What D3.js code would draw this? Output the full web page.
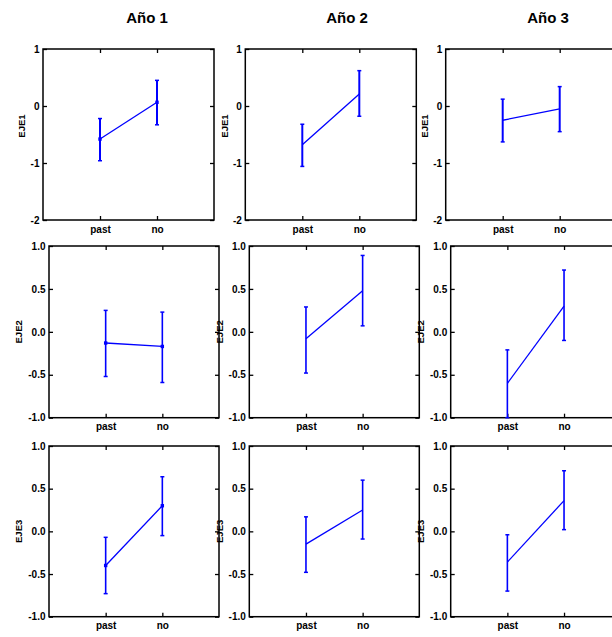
<!DOCTYPE html>
<html><head><meta charset="utf-8">
<script src="https://cdn.jsdelivr.net/npm/d3@7"></script>
<style>
html,body{margin:0;padding:0;background:#fff;}
text{font-family:"Liberation Sans",Arial,sans-serif;font-weight:bold;fill:#000;}
</style></head>
<body>
<svg id="chart" width="612" height="637"></svg>
<script>
// ---- data ----
const years = ["Año 1", "Año 2", "Año 3"];
const axesNames = ["EJE1", "EJE2", "EJE3"];
const categories = ["past", "no"];

// means per [year][category]
const eje1Mean = [[-0.58, 0.065], [-0.68, 0.21], [-0.25, -0.05]];
const eje1Low  = [[-0.96, -0.33], [-1.06, -0.18], [-0.63, -0.45]];
const eje1High = [[-0.22, 0.45], [-0.32, 0.62], [0.12, 0.34]];

const eje2Mean = [[-0.13, -0.17], [-0.08, 0.48], [-0.60, 0.30]];
const eje2Low  = [[-0.52, -0.59], [-0.48, 0.07], [-1.00, -0.10]];
const eje2High = [[0.25, 0.23], [0.29, 0.89], [-0.21, 0.72]];

const eje3Mean = [[-0.40, 0.30], [-0.15, 0.25], [-0.36, 0.36]];
const eje3Low  = [[-0.73, -0.05], [-0.48, -0.09], [-0.70, 0.02]];
const eje3High = [[-0.07, 0.64], [0.17, 0.60], [-0.04, 0.71]];

const eje1TickValues = [-2, -1, 0, 1];
const eje1TickLabels = ["-2", "-1", "0", "1"];
const eje23TickValues = [-1, -0.5, 0, 0.5, 1];
const eje23TickLabels = ["-1.0", "-0.5", "0.0", "0.5", "1.0"];

const eje1Domain = [-2, 1];
const eje23Domain = [-1, 1];

// ---- layout ----
const rowLayout = [
  {top: 49, bottom: 220, lefts: [43, 245.3, 445.7], width: 171, ylabX: 21, ylabY: 126, errW: 2},
  {top: 246, bottom: 417.7, lefts: [49, 249.3, 450.7], width: 170, ylabX: 30, ylabY: null, errW: 1.6},
  {top: 446, bottom: 616.7, lefts: [49, 249.3, 450.7], width: 170, ylabX: 30, ylabY: null, errW: 1.6}
];
const showMarker = [true, false, false];
const titleX = [147, 347, 548];
const blue = "#0000ff";

const rows = [
  {mean: eje1Mean, low: eje1Low, high: eje1High, domain: eje1Domain, tv: eje1TickValues, tl: eje1TickLabels},
  {mean: eje2Mean, low: eje2Low, high: eje2High, domain: eje23Domain, tv: eje23TickValues, tl: eje23TickLabels},
  {mean: eje3Mean, low: eje3Low, high: eje3High, domain: eje23Domain, tv: eje23TickValues, tl: eje23TickLabels}
];

const svg = d3.select("#chart");

// titles
svg.selectAll("text.title").data(years).enter().append("text")
  .attr("class", "title")
  .attr("x", (d, i) => titleX[i]).attr("y", 23)
  .attr("text-anchor", "middle")
  .style("font-size", "15px")
  .text(d => d);

rows.forEach((row, r) => {
  const L = rowLayout[r];
  years.forEach((yr, c) => {
    const left = L.lefts[c];
    const g = svg.append("g").attr("transform", `translate(${left},${L.top})`);
    const w = L.width, h = L.bottom - L.top;
    const x = d3.scalePoint().domain(["", ...categories, " "]).range([0, w]);
    const y = d3.scaleLinear().domain(row.domain).range([h, 0]);
    const labelMap = new Map(row.tv.map((v, i) => [v, row.tl[i]]));

    // axes with inward ticks
    const axL = g.append("g").call(d3.axisLeft(y).tickValues(row.tv).tickSize(-4).tickSizeOuter(0).tickPadding(3.5)
      .tickFormat(v => labelMap.get(v)));
    const axR = g.append("g").attr("transform", `translate(${w},0)`)
      .call(d3.axisRight(y).tickValues(row.tv).tickSize(-4).tickSizeOuter(0).tickFormat(""));
    const axT = g.append("g").call(d3.axisTop(x).tickValues(categories).tickSize(-4).tickSizeOuter(0).tickFormat(""));
    const axB = g.append("g").attr("transform", `translate(0,${h})`)
      .call(d3.axisBottom(x).tickValues(categories).tickSize(-4).tickSizeOuter(0).tickPadding(5.5));
    [axL, axR, axT, axB].forEach(a => {
      a.select(".domain").remove();
      a.selectAll("line").attr("stroke", "#000").attr("stroke-width", 1.3);
      a.selectAll("text").style("font-size", "10px").style("font-family", "'Liberation Sans',Arial,sans-serif")
        .style("font-weight", "bold").attr("fill", "#000");
    });

    // frame
    g.append("rect").attr("x", 0).attr("y", 0).attr("width", w).attr("height", h)
      .attr("fill", "none").attr("stroke", "#000").attr("stroke-width", 1.5);

    // y label
    const ly = L.ylabY === null ? h / 2 : L.ylabY - L.top;
    g.append("text")
      .attr("transform", `translate(${-L.ylabX + 3.3},${ly}) rotate(-90)`)
      .attr("text-anchor", "middle")
      .style("font-size", "9.5px")
      .text(axesNames[r]);

    const pts = categories.map((cat, k) => ({
      cat, m: row.mean[c][k], lo: row.low[c][k], hi: row.high[c][k]
    }));

    // error bars
    pts.forEach(p => {
      const px = x(p.cat);
      g.append("line").attr("x1", px).attr("x2", px).attr("y1", y(p.lo)).attr("y2", y(p.hi))
        .attr("stroke", blue).attr("stroke-width", L.errW);
      [p.lo, p.hi].forEach(v => {
        g.append("line").attr("x1", px - 2).attr("x2", px + 2).attr("y1", y(v)).attr("y2", y(v))
          .attr("stroke", blue).attr("stroke-width", 1.5);
      });
    });

    // mean line
    g.append("path").datum(pts)
      .attr("d", d3.line().x(p => x(p.cat)).y(p => y(p.m)))
      .attr("fill", "none").attr("stroke", blue).attr("stroke-width", 1.3);

    if (showMarker[c]) {
      g.selectAll("rect.mk").data(pts).enter().append("rect")
        .attr("class", "mk")
        .attr("x", p => x(p.cat) - 1.7).attr("y", p => y(p.m) - 1.7)
        .attr("width", 3.4).attr("height", 3.4).attr("fill", blue);
    }
  });
});
</script>
</body></html>
